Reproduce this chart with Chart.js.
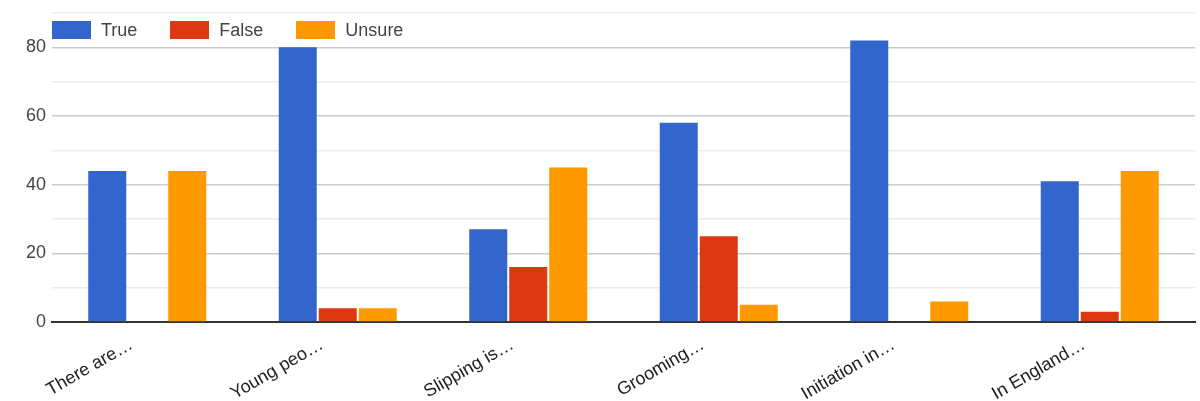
<!DOCTYPE html>
<html>
<head>
<meta charset="utf-8">
<script src="https://cdn.jsdelivr.net/npm/chart.js@4/dist/chart.umd.min.js"></script>
<style>
  html, body { margin: 0; padding: 0; background: #fff; }
  #wrap { position: relative; width: 1200px; height: 401px; }
  #legend { position: absolute; left: 52px; top: 21px; display: flex; font: 18px Arial, "Liberation Sans", sans-serif; color: #444; }
  .item { display: flex; align-items: center; margin-right: 33px; height: 18px; }
  .swatch { width: 39px; height: 18px; margin-right: 10px; }
</style>
</head>
<body>
<div id="wrap">
  <canvas id="chart" width="1200" height="401"></canvas>
  <div id="legend"></div>
</div>
<script>
const categories = ["There are…", "Young peo…", "Slipping is…", "Grooming…", "Initiation in…", "In England…"];
const seriesNames = ["True", "False", "Unsure"];
const trueValues = [44, 80, 27, 58, 82, 41];
const falseValues = [0, 4, 16, 25, 0, 3];
const unsureValues = [44, 4, 45, 5, 6, 44];
const yTicks = [0, 20, 40, 60, 80];

const colors = ["#3366cc", "#dc3912", "#ff9900"];
const seriesValues = [trueValues, falseValues, unsureValues];

const legend = document.getElementById("legend");
legend.innerHTML = seriesNames.map((name, i) =>
  `<div class="item"><span class="swatch" style="background:${colors[i]}"></span>${name}</div>`
).join("");

new Chart(document.getElementById("chart"), {
  type: "bar",
  data: {
    labels: categories,
    datasets: seriesNames.map((name, i) => ({
      label: name,
      data: seriesValues[i],
      backgroundColor: colors[i],
      borderWidth: 0,
      categoryPercentage: 0.63,
      barPercentage: 0.95,
    })),
  },
  options: {
    responsive: false,
    animation: false,
    layout: { padding: { top: 0, right: 5, left: 0, bottom: 0 } },
    plugins: { legend: { display: false }, tooltip: { enabled: false } },
    scales: {
      x: {
        grid: { display: false },
        border: { color: "#333", width: 2 },
        afterFit: (scale) => { scale.height = 79; },
        ticks: {
          color: "#222",
          font: { family: "Arial, 'Liberation Sans', sans-serif", size: 18 },
          minRotation: 30,
          maxRotation: 30,
          autoSkip: false,
          padding: 4,
          labelOffset: -16,
        },
      },
      y: {
        min: 0,
        max: 90,
        border: { display: false },
        afterFit: (scale) => { scale.width = 52; scale.paddingTop = 13; },
        grid: {
          drawTicks: false,
          color: (ctx) => (yTicks.includes(ctx.tick.value) ? "#cccccc" : "#ebebeb"),
          lineWidth: 1.5,
        },
        ticks: {
          stepSize: 10,
          color: "#444",
          padding: 6,
          font: { family: "Arial, 'Liberation Sans', sans-serif", size: 18 },
          callback: (v) => (yTicks.includes(v) ? String(v) : ""),
        },
      },
    },
  },
});
</script>
</body>
</html>
